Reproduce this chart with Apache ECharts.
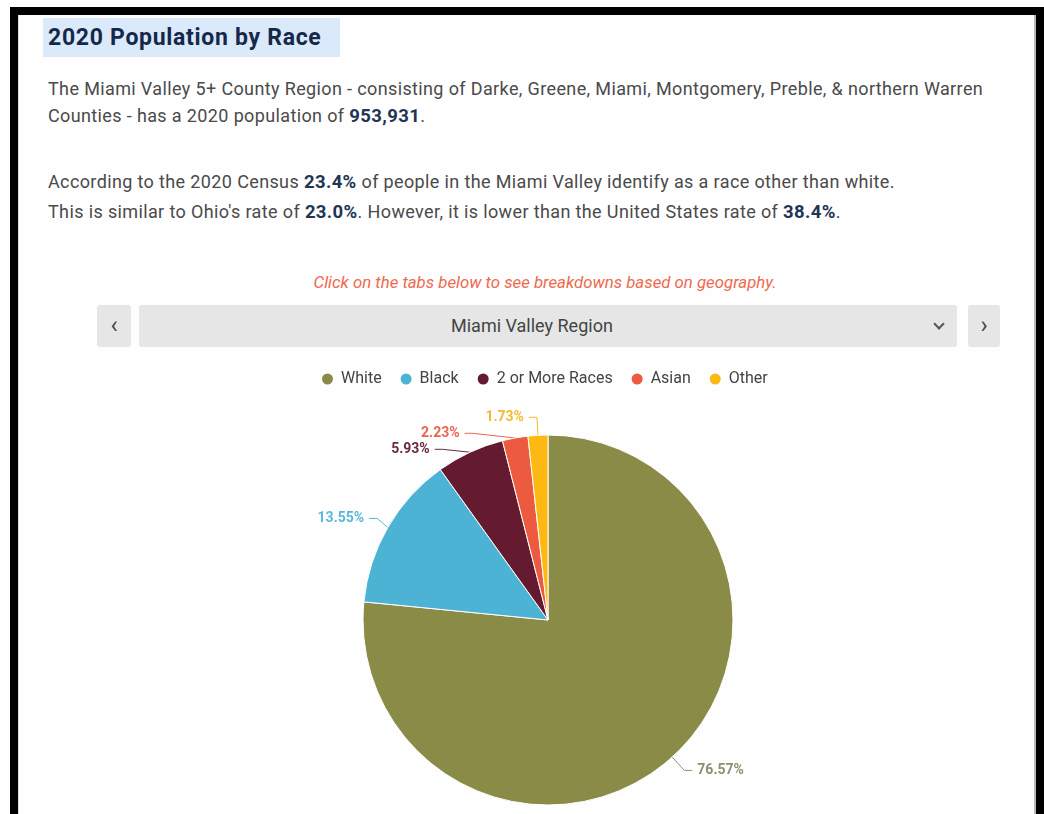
<!DOCTYPE html>
<html>
<head>
<meta charset="utf-8">
<script src="https://cdn.jsdelivr.net/npm/echarts@6/dist/echarts.min.js"></script>
<style>
  html, body { margin:0; padding:0; width:1044px; height:814px; background:#fff; overflow:hidden; font-family: Roboto, "Noto Sans", Arial, sans-serif; }
  #frame { position:absolute; left:10px; top:7px; width:1018px; height:807px; border:8px solid #000; border-bottom:none; box-sizing:content-box; }
  #inner { position:absolute; left:0; top:0; right:0; bottom:0; border-right:2px solid #b8b8b8; border-left:1px solid #ddd; background:#fefefe; }
  .t { position:absolute; white-space:nowrap; color:#4a4a4a; font-size:18px; line-height:20px; letter-spacing:0.37px; }
  .t b { color:#1e3555; font-weight:700; font-size:18.5px; }
  #title { position:absolute; left:43px; top:18px; width:297px; height:39px; background:#dbeafa; }
  #title span { position:absolute; left:5px; top:8px; font-size:23px; line-height:24px; letter-spacing:0.7px; font-weight:700; color:#14294a; white-space:nowrap; }
  #note { position:absolute; left:0; width:1090px; top:272px; text-align:center; color:#ee6a4f; font-style:italic; font-size:16.8px; line-height:20px; }
  .btn { position:absolute; top:305px; height:42px; background:#e6e6e6; border-radius:3px; color:#444; font-size:24px; line-height:40px; text-align:center; }
  #bar { position:absolute; top:305px; left:139px; width:818px; height:42px; background:#e6e6e6; border-radius:3px; }
  #bar span { position:absolute; left:312px; top:11px; font-size:18px; line-height:20px; color:#444; white-space:nowrap; }
  #caret { position:absolute; left:796px; top:15px; width:6px; height:6px; border-right:2px solid #555; border-bottom:2px solid #555; transform:rotate(45deg); }
  #chart { position:absolute; left:0; top:0; width:1044px; height:814px; }
</style>
</head>
<body>
<div id="frame"><div id="inner"></div></div>
<div id="title"><span>2020 Population by Race</span></div>
<div class="t" style="left:48px; top:79px;">The Miami Valley 5+ County Region - consisting of Darke, Greene, Miami, Montgomery, Preble, &amp; northern Warren</div>
<div class="t" style="left:48px; top:106px;">Counties - has a 2020 population of <b>953,931</b>.</div>
<div class="t" style="left:48px; top:172px;">According to the 2020 Census <b>23.4%</b> of people in the Miami Valley identify as a race other than white.</div>
<div class="t" style="left:48px; top:202px;">This is similar to Ohio's rate of <b>23.0%</b>. However, it is lower than the United States rate of <b>38.4%</b>.</div>
<div id="note">Click on the tabs below to see breakdowns based on geography.</div>
<div class="btn" style="left:97px; width:34px;">&#8249;</div>
<div id="bar"><span>Miami Valley Region</span><div id="caret"></div></div>
<div class="btn" style="left:968px; width:32px;">&#8250;</div>
<div id="chart"></div>
<script>
const categories = ['White', 'Black', '2 or More Races', 'Asian', 'Other'];
const values = [76.57, 13.55, 5.93, 2.23, 1.73];
const sliceColors = ['#898b47', '#4db3d4', '#641a2f', '#ec5b3f', '#fdb813'];
const labelColors = ['#8e9070', '#5ab9da', '#6a2b3e', '#ea6650', '#f7b92e'];

const chart = echarts.init(document.getElementById('chart'), null, { renderer: 'canvas' });
chart.setOption({
  backgroundColor: 'transparent',
  animation: false,
  color: sliceColors,
  legend: {
    data: categories,
    left: 320, top: 371,
    padding: 0,
    icon: 'circle',
    itemWidth: 17, itemHeight: 13,
    itemGap: 17,
    textStyle: { fontFamily: 'Roboto', fontSize: 16, color: '#444' }
  },
  series: [{
    type: 'pie',
    center: [548, 620],
    radius: 185,
    startAngle: 90,
    clockwise: true,
    itemStyle: { borderColor: '#fff', borderWidth: 1 },
    label: {
      show: true,
      formatter: '{c}%',
      fontFamily: 'Roboto',
      fontSize: 14,
      fontWeight: 'bold'
    },
    labelLine: { show: true, length: 18, length2: 8, lineStyle: { width: 1 } },
    data: categories.map((name, i) => ({
      name: name,
      value: values[i],
      label: { color: labelColors[i] },
      labelLine: { lineStyle: { color: labelColors[i] } }
    }))
  }]
});
</script>
</body>
</html>
